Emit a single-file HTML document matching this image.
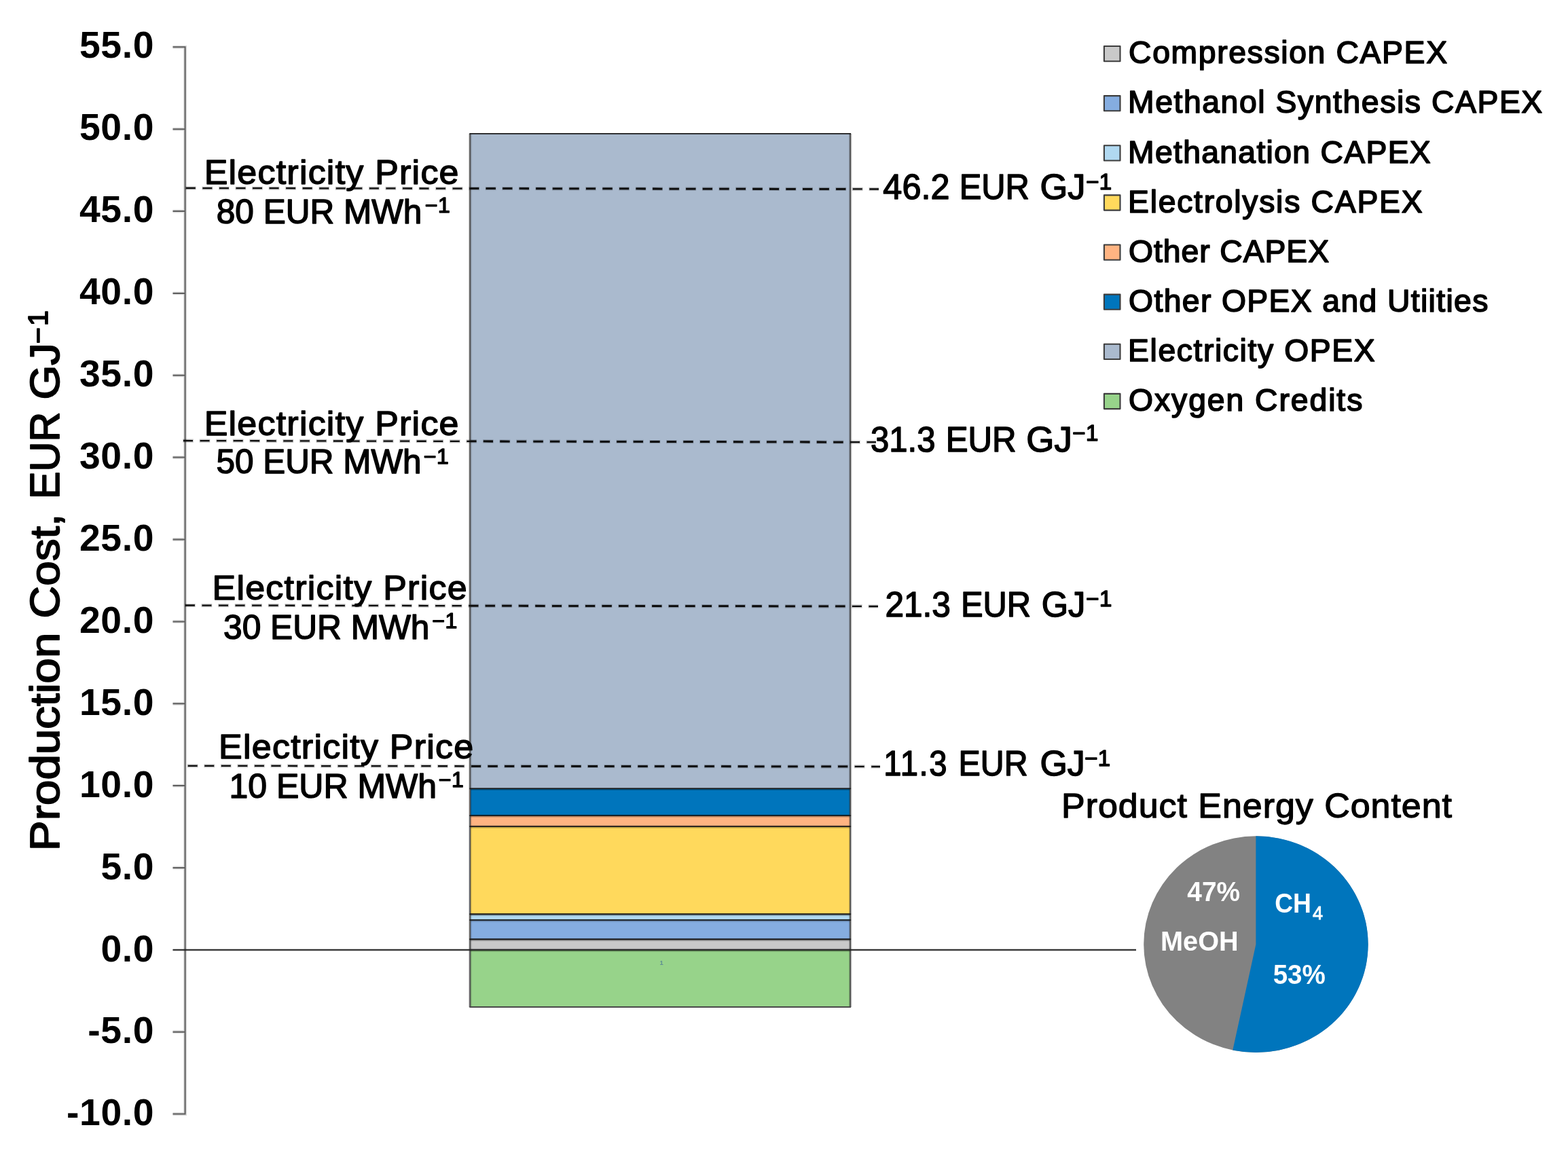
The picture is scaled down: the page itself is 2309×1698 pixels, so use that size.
<!DOCTYPE html>
<html lang="en">
<head>
<meta charset="utf-8">
<title>Production Cost Breakdown</title>
<style>
html,body{margin:0;padding:0;background:#fff;}
body{width:2309px;height:1698px;overflow:hidden;font-family:'Liberation Sans', Arial, Helvetica, sans-serif;}
svg{display:block;}
</style>
</head>
<body>
<svg width="2309" height="1698" viewBox="0 0 2309 1698" role="img" aria-label="Production cost breakdown, EUR per GJ">
<rect x="0" y="0" width="2309" height="1698" fill="#fff"/>
<g id="bar">
<rect x="692.2" y="196.9" width="560.0" height="964.5" fill="#aabace"/>
<rect x="692.2" y="1161.4" width="560.0" height="39.7" fill="#0075bc"/>
<rect x="692.2" y="1201.1" width="560.0" height="16.0" fill="#ffb482"/>
<rect x="692.2" y="1217.1" width="560.0" height="129.2" fill="#ffd95c"/>
<rect x="692.2" y="1346.3" width="560.0" height="8.6" fill="#b1d9f1"/>
<rect x="692.2" y="1354.9" width="560.0" height="28.3" fill="#85ade0"/>
<rect x="692.2" y="1383.2" width="560.0" height="15.6" fill="#c9c9c9"/>
<rect x="692.2" y="1398.8" width="560.0" height="84.2" fill="#97d38a"/>
<path d="M692.2 1162.0H1252.2M692.2 1201.7H1252.2M692.2 1217.7H1252.2M692.2 1346.9H1252.2M692.2 1355.5H1252.2M692.2 1383.8H1252.2M692.2 1399.4H1252.2" stroke="#000" stroke-opacity="0.22" stroke-width="4.2" fill="none"/>
<path d="M692.2 196.9V1483.0M1252.2 196.9V1483.0" stroke="#000" stroke-opacity="0.2" stroke-width="4.4" fill="none"/>
<path d="M692.2 196.9V1483.0M1252.2 196.9V1483.0" stroke="#4e4e4e" stroke-width="1.8" fill="none"/>
<path d="M691.3 1161.4H1253.1M691.3 1201.1H1253.1M691.3 1217.1H1253.1M691.3 1346.3H1253.1M691.3 1354.9H1253.1M691.3 1383.2H1253.1" stroke="#1a1a1a" stroke-width="1.9" fill="none"/>
<path d="M691.3 196.9H1253.1" stroke="#1c1c1c" stroke-width="1.9" fill="none"/>
<path d="M691.3 1483.0H1253.1" stroke="#4a4a4a" stroke-width="1.9" fill="none"/>
</g>
<g id="axis" fill="none">
<path d="M254.5 69.3H272.6V1640.6H254.5M254.5 1519.7H272.6M254.5 1278.0H272.6M254.5 1157.1H272.6M254.5 1036.3H272.6M254.5 915.4H272.6M254.5 794.5H272.6M254.5 673.6H272.6M254.5 552.8H272.6M254.5 431.9H272.6M254.5 311.0H272.6M254.5 190.2H272.6" stroke="#808080" stroke-opacity="0.3" stroke-width="4.8"/>
<path d="M254.5 69.3H272.6V1640.6H254.5M254.5 1519.7H272.6M254.5 1278.0H272.6M254.5 1157.1H272.6M254.5 1036.3H272.6M254.5 915.4H272.6M254.5 794.5H272.6M254.5 673.6H272.6M254.5 552.8H272.6M254.5 431.9H272.6M254.5 311.0H272.6M254.5 190.2H272.6" stroke="#5e5e5e" stroke-width="2"/>
<line x1="254.5" y1="1398.8" x2="1673" y2="1398.8" stroke="#000" stroke-opacity="0.16" stroke-width="4.2"/>
<line x1="254.5" y1="1398.8" x2="1673" y2="1398.8" stroke="#222" stroke-width="1.7"/>
</g>
<g id="ticklabels" font-family="'Liberation Sans', Arial, Helvetica, sans-serif" fill="#000">
<text x="98.02" y="1657.4" font-size="55.3" font-weight="700" letter-spacing="0.6">-10.0</text>
<text x="129.37" y="1536.47" font-size="55.3" font-weight="700" letter-spacing="0.6">-5.0</text>
<text x="148.38" y="1415.54" font-size="55.3" font-weight="700" letter-spacing="0.6">0.0</text>
<text x="148.38" y="1294.61" font-size="55.3" font-weight="700" letter-spacing="0.6">5.0</text>
<text x="117.03" y="1173.68" font-size="55.3" font-weight="700" letter-spacing="0.6">10.0</text>
<text x="117.03" y="1052.75" font-size="55.3" font-weight="700" letter-spacing="0.6">15.0</text>
<text x="117.03" y="931.82" font-size="55.3" font-weight="700" letter-spacing="0.6">20.0</text>
<text x="117.03" y="810.88" font-size="55.3" font-weight="700" letter-spacing="0.6">25.0</text>
<text x="117.03" y="689.95" font-size="55.3" font-weight="700" letter-spacing="0.6">30.0</text>
<text x="117.03" y="569.02" font-size="55.3" font-weight="700" letter-spacing="0.6">35.0</text>
<text x="117.03" y="448.09" font-size="55.3" font-weight="700" letter-spacing="0.6">40.0</text>
<text x="117.03" y="327.16" font-size="55.3" font-weight="700" letter-spacing="0.6">45.0</text>
<text x="117.03" y="206.23" font-size="55.3" font-weight="700" letter-spacing="0.6">50.0</text>
<text x="117.03" y="85.3" font-size="55.3" font-weight="700" letter-spacing="0.6">55.0</text>
</g>
<g id="ytitle" transform="translate(87.2 1250) rotate(-90)" font-family="'Liberation Sans', Arial, Helvetica, sans-serif" fill="#000" stroke-linejoin="round">
<text y="0" font-size="60.5" stroke="#000" stroke-width="1.8"><tspan x="-3.25" textLength="321.7" lengthAdjust="spacingAndGlyphs">Production</tspan> <tspan x="339.61" textLength="153.74" lengthAdjust="spacingAndGlyphs">Cost,</tspan> <tspan x="514.98" textLength="128.52" lengthAdjust="spacingAndGlyphs">EUR</tspan> <tspan x="661.53" textLength="83.49" lengthAdjust="spacingAndGlyphs">GJ</tspan><tspan x="744.1" y="-17" font-size="41" letter-spacing="2">−1</tspan></text>
</g>
<clipPath id="barclip"><rect x="693.2" y="190" width="558.0" height="1000"/></clipPath>
<g id="dashes" fill="none" stroke="#0c0c0c" stroke-dasharray="14 10.55">
<line x1="273.0" y1="277.0" x2="1294" y2="278.5" stroke="#000" stroke-opacity="0.22" stroke-width="5.2" stroke-dasharray="15.6 8.95"/>
<line x1="273.8" y1="277.0" x2="1294" y2="278.5" stroke-width="2.3"/>
<line x1="273.8" y1="277.0" x2="1294" y2="278.5" stroke-width="2.8" clip-path="url(#barclip)"/>
<line x1="269.2" y1="649.0" x2="1290" y2="651.2" stroke="#000" stroke-opacity="0.22" stroke-width="5.2" stroke-dasharray="15.6 8.95"/>
<line x1="270.0" y1="649.0" x2="1290" y2="651.2" stroke-width="2.3"/>
<line x1="270.0" y1="649.0" x2="1290" y2="651.2" stroke-width="2.8" clip-path="url(#barclip)"/>
<line x1="272.1" y1="891.5" x2="1293" y2="893.0" stroke="#000" stroke-opacity="0.22" stroke-width="5.2" stroke-dasharray="15.6 8.95"/>
<line x1="272.9" y1="891.5" x2="1293" y2="893.0" stroke-width="2.3"/>
<line x1="272.9" y1="891.5" x2="1293" y2="893.0" stroke-width="2.8" clip-path="url(#barclip)"/>
<line x1="275.9" y1="1127.8" x2="1296" y2="1129.0" stroke="#000" stroke-opacity="0.22" stroke-width="5.2" stroke-dasharray="15.6 8.95"/>
<line x1="276.7" y1="1127.8" x2="1296" y2="1129.0" stroke-width="2.3"/>
<line x1="276.7" y1="1127.8" x2="1296" y2="1129.0" stroke-width="2.8" clip-path="url(#barclip)"/>
</g>
<g id="legend" font-family="'Liberation Sans', Arial, Helvetica, sans-serif" fill="#000" stroke-linejoin="round">
<rect x="1625.9" y="68.0" width="23.6" height="22.2" fill="#c9c9c9" stroke="#3d3d3d" stroke-width="2.1"/>
<text x="1662.05" y="93.3" font-size="46.3" stroke="#000" stroke-width="1.7" letter-spacing="1.651">Compression CAPEX</text>
<rect x="1625.9" y="141.1" width="23.6" height="22.2" fill="#85ade0" stroke="#3d3d3d" stroke-width="2.1"/>
<text x="1661.05" y="166.43" font-size="46.3" stroke="#000" stroke-width="1.7" letter-spacing="1.58">Methanol Synthesis CAPEX</text>
<rect x="1625.9" y="214.3" width="23.6" height="22.2" fill="#b1d9f1" stroke="#3d3d3d" stroke-width="2.1"/>
<text x="1661.05" y="239.56" font-size="46.3" stroke="#000" stroke-width="1.7" letter-spacing="1.316">Methanation CAPEX</text>
<rect x="1625.9" y="287.4" width="23.6" height="22.2" fill="#ffd95c" stroke="#3d3d3d" stroke-width="2.1"/>
<text x="1661.05" y="312.69" font-size="46.3" stroke="#000" stroke-width="1.7" letter-spacing="1.739">Electrolysis CAPEX</text>
<rect x="1625.9" y="360.5" width="23.6" height="22.2" fill="#ffb482" stroke="#3d3d3d" stroke-width="2.1"/>
<text x="1662.05" y="385.82" font-size="46.3" stroke="#000" stroke-width="1.7" letter-spacing="0.938">Other CAPEX</text>
<rect x="1625.9" y="433.6" width="23.6" height="22.2" fill="#0075bc" stroke="#3d3d3d" stroke-width="2.1"/>
<text x="1662.05" y="458.95" font-size="46.3" stroke="#000" stroke-width="1.7" letter-spacing="1.371">Other OPEX and Utiities</text>
<rect x="1625.9" y="506.8" width="23.6" height="22.2" fill="#aabace" stroke="#3d3d3d" stroke-width="2.1"/>
<text x="1661.05" y="532.08" font-size="46.3" stroke="#000" stroke-width="1.7" letter-spacing="1.6">Electricity OPEX</text>
<rect x="1625.9" y="579.9" width="23.6" height="22.2" fill="#97d38a" stroke="#3d3d3d" stroke-width="2.1"/>
<text x="1662.05" y="605.21" font-size="46.3" stroke="#000" stroke-width="1.7" letter-spacing="1.938">Oxygen Credits</text>
</g>
<g id="pie">
<ellipse cx="1849.4" cy="1390.65" rx="165.2" ry="159.3" fill="#828282"/>
<path d="M1849.4 1390.65L1849.4 1231.35A165.2 159.3 0 1 1 1815.3 1546.5Z" fill="#0075bc"/>
<g font-family="'Liberation Sans', Arial, Helvetica, sans-serif">
<text transform="translate(1748.3 1327.2) scale(0.9765 1)" font-size="39.8" font-weight="700" fill="#fff">47%</text>
<text transform="translate(1709 1400.2) scale(0.9978 1)" font-size="39.8" font-weight="700" fill="#fff">MeOH</text>
<text y="1343.8" font-size="39.8" font-weight="700" fill="#fff"><tspan x="1877.16" textLength="53.76" lengthAdjust="spacingAndGlyphs">CH</tspan><tspan x="1933.05" y="1353.8" font-size="27" font-weight="400" stroke="#fff" stroke-width="0.9">4</tspan></text>
<text transform="translate(1874.63 1449.2) scale(0.971 1)" font-size="39.8" font-weight="700" fill="#fff">53%</text>
</g></g>
<g id="labels" font-family="'Liberation Sans', Arial, Helvetica, sans-serif" fill="#000" stroke-linejoin="round">
<text transform="translate(300.69 271) scale(1.05 1)" font-size="49.5" stroke="#000" stroke-width="1.5" letter-spacing="1.167">Electricity Price</text>
<text y="328.8" font-size="49.5" stroke="#000" stroke-width="1.5"><tspan x="318.85">80 EUR MWh</tspan><tspan x="625.74" y="313" font-size="31.5" letter-spacing="0.6" textLength="37.61" lengthAdjust="spacingAndGlyphs">−1</tspan></text>
<text transform="translate(300.69 641) scale(1.05 1)" font-size="49.5" stroke="#000" stroke-width="1.5" letter-spacing="1.167">Electricity Price</text>
<text y="697" font-size="49.5" stroke="#000" stroke-width="1.5"><tspan x="318.55" textLength="301.93" lengthAdjust="spacingAndGlyphs">50 EUR MWh</tspan><tspan x="623.74" y="683" font-size="31.5" letter-spacing="0.6" textLength="37.61" lengthAdjust="spacingAndGlyphs">−1</tspan></text>
<text transform="translate(312.49 883.3) scale(1.05 1)" font-size="49.5" stroke="#000" stroke-width="1.5" letter-spacing="1.185">Electricity Price</text>
<text y="940.8" font-size="49.5" stroke="#000" stroke-width="1.5"><tspan x="329.05" textLength="303.44" lengthAdjust="spacingAndGlyphs">30 EUR MWh</tspan><tspan x="636.24" y="925" font-size="31.5" letter-spacing="0.6" textLength="37.61" lengthAdjust="spacingAndGlyphs">−1</tspan></text>
<text transform="translate(322.09 1117) scale(1.05 1)" font-size="49.5" stroke="#000" stroke-width="1.5" letter-spacing="1.185">Electricity Price</text>
<text y="1175" font-size="49.5" stroke="#000" stroke-width="1.5"><tspan x="337.53" textLength="305.47" lengthAdjust="spacingAndGlyphs">10 EUR MWh</tspan><tspan x="645.74" y="1159" font-size="31.5" letter-spacing="0.6" textLength="37.61" lengthAdjust="spacingAndGlyphs">−1</tspan></text>
<text y="293.4" font-size="51" stroke="#000" stroke-width="1.5"><tspan x="1300.35" textLength="98.14" lengthAdjust="spacingAndGlyphs">46.2</tspan> <tspan x="1412.68" textLength="103.25" lengthAdjust="spacingAndGlyphs">EUR</tspan> <tspan x="1531.42" textLength="66.91" lengthAdjust="spacingAndGlyphs">GJ</tspan><tspan x="1599.04" y="279.1" font-size="32.5" letter-spacing="0.6" textLength="38.78" lengthAdjust="spacingAndGlyphs">−1</tspan></text>
<text y="665.3" font-size="51" stroke="#000" stroke-width="1.5"><tspan x="1282.06" textLength="95.43" lengthAdjust="spacingAndGlyphs">31.3</tspan> <tspan x="1392.66" textLength="103.88" lengthAdjust="spacingAndGlyphs">EUR</tspan> <tspan x="1511.3" textLength="67.55" lengthAdjust="spacingAndGlyphs">GJ</tspan><tspan x="1579.14" y="649" font-size="32.5" letter-spacing="0.6" textLength="38.78" lengthAdjust="spacingAndGlyphs">−1</tspan></text>
<text y="907.5" font-size="51" stroke="#000" stroke-width="1.5"><tspan x="1303.39" textLength="96.41" lengthAdjust="spacingAndGlyphs">21.3</tspan> <tspan x="1414.99" textLength="103.15" lengthAdjust="spacingAndGlyphs">EUR</tspan> <tspan x="1533.66" textLength="64.67" lengthAdjust="spacingAndGlyphs">GJ</tspan><tspan x="1599.14" y="893" font-size="32.5" letter-spacing="0.6" textLength="38.78" lengthAdjust="spacingAndGlyphs">−1</tspan></text>
<text y="1142" font-size="51" stroke="#000" stroke-width="1.5"><tspan x="1301.25" letter-spacing="1.8" textLength="95" lengthAdjust="spacingAndGlyphs">11.3</tspan> <tspan x="1411.62" textLength="102" lengthAdjust="spacingAndGlyphs">EUR</tspan> <tspan x="1531.43" textLength="66.37" lengthAdjust="spacingAndGlyphs">GJ</tspan><tspan x="1596.94" y="1127.6" font-size="32.5" letter-spacing="0.6" textLength="38.78" lengthAdjust="spacingAndGlyphs">−1</tspan></text>
<text transform="translate(1563.08 1203.8) scale(1.05 1)" font-size="49.5" stroke="#000" stroke-width="1.3" letter-spacing="0.919">Product Energy Content</text>
</g>
<text x="971.5" y="1421.3" font-family="'Liberation Sans', Arial, Helvetica, sans-serif" font-size="9.5" font-weight="700" fill="#5f8f92">1</text>
</svg>
</body>
</html>
